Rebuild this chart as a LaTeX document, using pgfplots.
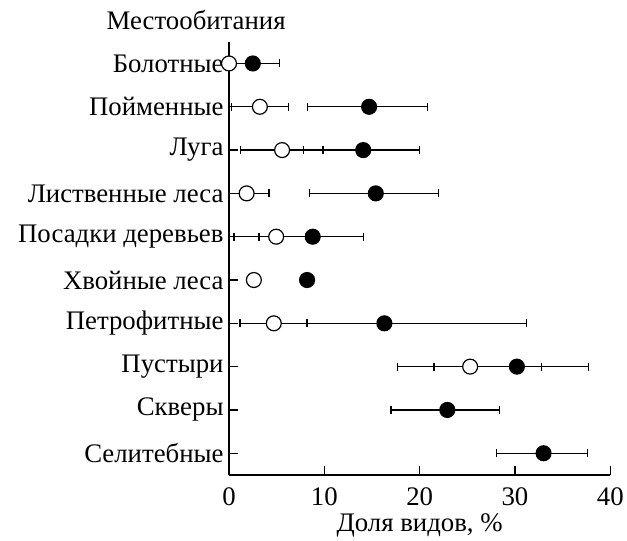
\documentclass[border=0pt]{standalone}
\usepackage{fontspec}
\setmainfont{Liberation Serif}
\usepackage{pgfplots}
\pgfplotsset{compat=1.18}
\newcommand{\fs}{\fontsize{27}{32}\selectfont}
\begin{document}
\begin{tikzpicture}
% page frame in reference proportions (axis origin at 230,477 of 627x537)
\path (-230bp,-60bp) rectangle (397bp,477bp);
\begin{axis}[
    at={(0,0)}, anchor=south west,
    scale only axis,
    width=383bp, height=435bp,
    axis x line*=bottom,
    axis y line*=left,
    axis line style={line width=1.2bp},
    xmin=0, xmax=40,
    ymin=-0.5, ymax=9.5,
    xtick={0,10,20,30,40},
    ytick={0,...,9},
    yticklabels={Селитебные,Скверы,Пустыри,Петрофитные,Хвойные леса,Посадки деревьев,Лиственные леса,Луга,Пойменные,Болотные},
    xtick align=inside,
    ytick align=inside,
    major tick length=9bp,
    every tick/.append style={line width=1.2bp, draw=black},
    /pgf/number format/assume math mode=true,
    ticklabel style={font=\fs},
    xticklabel style={yshift=-9bp},
    yticklabel style={xshift=-2bp},
    label style={font=\fs},
    xlabel={Доля видов, \%},
    xlabel style={yshift=-1bp},
    clip=false,
]
% error bars, filled series
\addplot[only marks, mark=*, mark size=0pt,
    error bars/.cd, x dir=both, x explicit,
    error bar style={line width=1.2bp, black},
    error mark options={mark size=4bp, line width=1.2bp, black, rotate=90}]
coordinates {
    (2.5,9)   += (2.8,0)  -= (2.5,0)
    (14.7,8)  += (6.1,0)  -= (6.5,0)
    (14.08,7) += (5.89,0) -= (6.24,0)
    (15.4,6)  += (6.6,0)  -= (6.93,0)
    (8.78,5)  += (5.3,0)  -= (5.64,0)
    (16.3,3)  += (14.9,0) -= (15.1,0)
    (30.2,2)  += (7.5,0)  -= (8.7,0)
    (22.9,1)  += (5.5,0)  -= (5.9,0)
    (33.0,0)  += (4.6,0)  -= (4.9,0)
};
% error bars, open series
\addplot[only marks, mark=*, mark size=0pt,
    error bars/.cd, x dir=both, x explicit,
    error bar style={line width=1.2bp, black},
    error mark options={mark size=4bp, line width=1.2bp, black, rotate=90}]
coordinates {
    (3.24,8)  += (3.0,0)  -= (3.0,0)
    (5.57,7)  += (4.3,0)  -= (4.35,0)
    (1.85,6)  += (2.35,0) -= (1.85,0)
    (4.95,5)  += (4.43,0) -= (4.43,0)
    (4.70,3)  += (3.49,0) -= (3.59,0)
    (25.3,2)  += (7.5,0)  -= (7.6,0)
};
% filled markers
\addplot[only marks, mark=*, mark size=7.5bp, mark options={fill=black, draw=black, line width=1.2bp}]
coordinates {
    (2.5,9) (14.7,8) (14.08,7) (15.4,6) (8.78,5) (8.19,4) (16.3,3) (30.2,2) (22.9,1) (33.0,0)
};
% open markers
\addplot[only marks, mark=*, mark size=7.5bp, mark options={fill=white, draw=black, line width=1.2bp}]
coordinates {
    (0,9) (3.24,8) (5.57,7) (1.85,6) (4.95,5) (2.61,4) (4.70,3) (25.3,2)
};
\node[anchor=base west, font=\fs, inner sep=0pt, xshift=-123bp, yshift=12bp]
    at (rel axis cs:0,1) {Местообитания};
\end{axis}
\end{tikzpicture}
\end{document}
